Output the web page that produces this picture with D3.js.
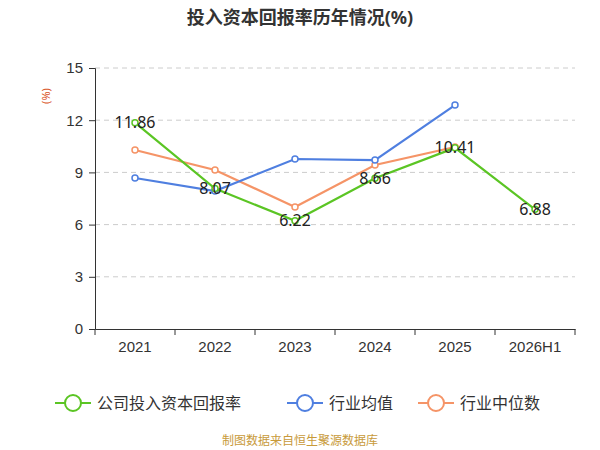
<!DOCTYPE html>
<html><head><meta charset="utf-8">
<script src="https://cdn.jsdelivr.net/npm/d3@7"></script>
<style>body{margin:0;background:#fff;font-family:"Noto Sans","Noto Sans CJK SC",sans-serif}</style>
</head><body><div id="graf"></div>
<script>
const years = ["2021","2022","2023","2024","2025","2026H1"]
const company = [11.86, 8.07, 6.22, 8.66, 10.41, 6.88]
const industryMean = [8.68, 7.93, 9.77, 9.71, 12.87]
const industryMedian = [10.29, 9.14, 7.01, 9.43, 10.46]
const yTicks = [0, 3, 6, 9, 12, 15]

const svg = d3.select("#graf").append("svg").attr("width", 600).attr("height", 450)
  .style("font-family", "'Noto Sans','Noto Sans CJK SC',sans-serif")
const margins = { top: 68, left: 95, right: 25, bottom: 121 }
const ancho = 600 - margins.left - margins.right
const alto = 450 - margins.top - margins.bottom

const x = d3.scaleBand().domain(years).range([0, ancho])
const y = d3.scaleLinear().domain([0, 15]).range([alto, 0])

svg.append("text").attr("x", 300).attr("y", 24).attr("text-anchor", "middle")
  .attr("font-size", 18).attr("font-weight", "bold").attr("fill", "#333").text("投入资本回报率历年情况(%)")
svg.append("text").attr("x", 50).attr("y", 96).attr("text-anchor", "middle")
  .attr("font-size", 11).attr("fill", "#d9541e")
  .attr("transform", "rotate(-90,50,96)").text("(%)")

const chart = svg.append("g").attr("transform", `translate(${margins.left},${margins.top})`)

// rejilla
chart.selectAll("line.grid").data(yTicks.filter(d => d > 0)).join("line")
  .attr("x1", 0).attr("x2", ancho).attr("y1", d => y(d)).attr("y2", d => y(d))
  .attr("stroke", "#ccc").attr("stroke-dasharray", "5,4")

const yAxis = chart.append("g").call(d3.axisLeft(y).tickValues(yTicks).tickSize(6).tickPadding(6))
yAxis.selectAll("text").attr("font-size", 15).attr("fill", "#333")
yAxis.select(".domain").attr("stroke", "#333")
yAxis.selectAll(".tick line").attr("stroke", "#333")

const xAxis = chart.append("g").attr("transform", `translate(0,${alto})`)
  .call(d3.axisBottom(x).tickSize(0).tickPadding(12))
xAxis.selectAll("text").attr("font-size", 15).attr("fill", "#333")
xAxis.select(".domain").attr("stroke", "#333")
xAxis.selectAll("line.sep").data(d3.range(years.length + 1)).join("line")
  .attr("x1", d => d * x.bandwidth()).attr("x2", d => d * x.bandwidth())
  .attr("y1", 0).attr("y2", 6).attr("stroke", "#333")

const series = [
  { name: "行业中位数", data: industryMedian, color: "#f59467" },
  { name: "行业均值", data: industryMean, color: "#4f7fe0" },
  { name: "公司投入资本回报率", data: company, color: "#5bc524" }
]
const cx = (d, i) => x(years[i]) + x.bandwidth() / 2
series.forEach(s => {
  chart.append("path").datum(s.data).attr("fill", "none").attr("stroke", s.color).attr("stroke-width", 2.2)
    .attr("d", d3.line().x(cx).y(d => y(d)))
  chart.selectAll(null).data(s.data).join("circle")
    .attr("cx", cx).attr("cy", d => y(d)).attr("r", 3)
    .attr("fill", "#fff").attr("stroke", s.color).attr("stroke-width", 1.5)
})
chart.selectAll("text.etiqueta").data(company).join("text").classed("etiqueta", true)
  .attr("x", cx).attr("y", d => y(d)).attr("dy", "0.35em").attr("text-anchor", "middle")
  .attr("font-size", 16).attr("fill", "#222").text(d => d.toFixed(2))

// leyenda
const legend = [
  { name: "公司投入资本回报率", color: "#5bc524", x: 55 },
  { name: "行业均值", color: "#4f7fe0", x: 287 },
  { name: "行业中位数", color: "#f59467", x: 418 }
]
const lg = svg.selectAll("g.leg").data(legend).join("g").attr("transform", d => `translate(${d.x},403)`)
lg.append("line").attr("x1", 0).attr("x2", 36).attr("stroke", d => d.color).attr("stroke-width", 2)
lg.append("circle").attr("cx", 18).attr("r", 8).attr("fill", "#fff").attr("stroke", d => d.color).attr("stroke-width", 2)
lg.append("text").attr("x", 42).attr("dy", "0.35em").attr("font-size", 16).attr("fill", "#333").text(d => d.name)

svg.append("text").attr("x", 300).attr("y", 445).attr("text-anchor", "middle")
  .attr("font-size", 12).attr("fill", "#c89a3a").text("制图数据来自恒生聚源数据库")
</script></body></html>
